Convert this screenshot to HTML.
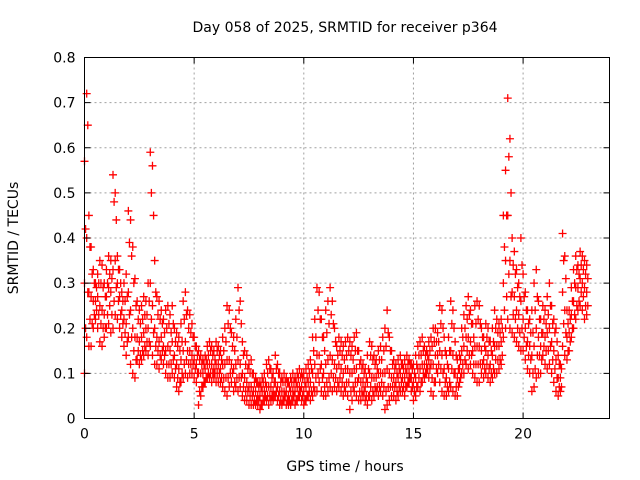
<!DOCTYPE html>
<html><head><meta charset="utf-8"><style>
body{margin:0;background:#fff}
svg{display:block;font-family:"DejaVu Sans","Liberation Sans",sans-serif}
</style></head><body>
<svg id="chart" width="640" height="480" viewBox="0 0 640 480">
<rect width="640" height="480" fill="#fff"/>
<g id="grid"></g>
<g id="marks"></g>
<g id="axes"></g>
<text x="345" y="32" font-size="14" text-anchor="middle">Day 058 of 2025, SRMTID for receiver p364</text>
<text x="345" y="471" font-size="14" text-anchor="middle">GPS time / hours</text>
<text transform="translate(18,238) rotate(-90)" font-size="14" text-anchor="middle">SRMTID / TECUs</text>
</svg>
<script>
const xTicks=[0,5,10,15,20];
const yTicks=[0,0.1,0.2,0.3,0.4,0.5,0.6,0.7,0.8];
const yTickLabels=["0","0.1","0.2","0.3","0.4","0.5","0.6","0.7","0.8"];
const tStart=0, tStep=0.1, tHalf=0.05;
const hiVals=[0.57,0.72,0.45,0.38,0.33,0.30,0.32,0.35,0.34,0.30,
0.33,0.36,0.35,0.54,0.50,0.36,0.33,0.28,0.30,0.32,
0.46,0.44,0.38,0.31,0.26,0.24,0.25,0.27,0.26,0.30,
0.59,0.56,0.35,0.27,0.26,0.24,0.22,0.24,0.25,0.23,
0.25,0.20,0.19,0.18,0.21,0.26,0.28,0.24,0.23,0.21,
0.18,0.16,0.15,0.14,0.13,0.14,0.16,0.17,0.16,0.15,
0.17,0.16,0.15,0.18,0.20,0.25,0.24,0.19,0.18,0.22,
0.29,0.26,0.17,0.15,0.14,0.12,0.13,0.10,0.09,0.08,
0.08,0.09,0.10,0.12,0.13,0.11,0.10,0.14,0.12,0.10,
0.09,0.10,0.09,0.08,0.09,0.10,0.09,0.10,0.11,0.10,
0.10,0.11,0.12,0.13,0.18,0.22,0.29,0.28,0.22,0.18,
0.24,0.26,0.29,0.26,0.20,0.16,0.18,0.17,0.16,0.17,
0.18,0.17,0.16,0.18,0.19,0.15,0.13,0.12,0.11,0.14,
0.17,0.16,0.14,0.13,0.15,0.16,0.18,0.20,0.24,0.18,
0.15,0.13,0.12,0.13,0.14,0.12,0.13,0.14,0.13,0.12,
0.12,0.14,0.16,0.17,0.18,0.16,0.15,0.17,0.18,0.20,
0.20,0.19,0.25,0.24,0.18,0.14,0.18,0.26,0.24,0.17,
0.13,0.14,0.20,0.23,0.25,0.27,0.24,0.21,0.25,0.26,
0.25,0.20,0.18,0.21,0.20,0.17,0.20,0.24,0.22,0.21,
0.22,0.45,0.55,0.71,0.62,0.40,0.37,0.33,0.30,0.40,
0.32,0.28,0.24,0.22,0.24,0.30,0.33,0.26,0.22,0.25,
0.24,0.27,0.30,0.25,0.22,0.20,0.14,0.12,0.41,0.36,
0.24,0.24,0.29,0.33,0.36,0.34,0.37,0.36,0.35,0.34];
const upperVals=[0.42,0.65,0.38,0.32,0.30,0.29,0.30,0.30,0.29,0.27,
0.30,0.32,0.31,0.48,0.44,0.33,0.30,0.26,0.26,0.27,
0.39,0.36,0.30,0.25,0.22,0.21,0.22,0.23,0.23,0.26,
0.50,0.45,0.28,0.23,0.22,0.21,0.19,0.20,0.21,0.19,
0.21,0.17,0.16,0.15,0.17,0.22,0.23,0.20,0.19,0.18,
0.16,0.14,0.13,0.12,0.12,0.13,0.14,0.15,0.14,0.13,
0.15,0.14,0.13,0.15,0.17,0.21,0.20,0.16,0.15,0.18,
0.24,0.21,0.14,0.12,0.11,0.10,0.10,0.08,0.08,0.07,
0.07,0.08,0.08,0.10,0.11,0.09,0.08,0.11,0.10,0.08,
0.08,0.08,0.08,0.07,0.08,0.08,0.08,0.09,0.09,0.09,
0.08,0.09,0.10,0.11,0.15,0.18,0.24,0.22,0.18,0.15,
0.19,0.21,0.23,0.21,0.17,0.14,0.15,0.14,0.13,0.14,
0.15,0.14,0.13,0.15,0.15,0.12,0.11,0.10,0.09,0.11,
0.14,0.13,0.12,0.11,0.13,0.13,0.15,0.16,0.19,0.15,
0.12,0.11,0.10,0.11,0.12,0.11,0.11,0.12,0.12,0.11,
0.10,0.12,0.14,0.14,0.15,0.14,0.14,0.15,0.16,0.17,
0.17,0.17,0.21,0.20,0.15,0.12,0.15,0.21,0.20,0.14,
0.11,0.13,0.18,0.20,0.22,0.23,0.21,0.18,0.21,0.22,
0.21,0.18,0.16,0.18,0.17,0.15,0.17,0.20,0.19,0.19,
0.20,0.38,0.45,0.58,0.50,0.34,0.32,0.29,0.27,0.34,
0.27,0.24,0.21,0.19,0.19,0.24,0.27,0.22,0.19,0.22,
0.21,0.23,0.25,0.21,0.19,0.17,0.12,0.11,0.35,0.31,
0.21,0.22,0.26,0.30,0.33,0.32,0.34,0.33,0.32,0.31];
const midVals=[0.30,0.40,0.28,0.27,0.26,0.26,0.27,0.25,0.24,0.23,
0.27,0.29,0.28,0.33,0.35,0.30,0.27,0.24,0.22,0.21,
0.28,0.24,0.20,0.18,0.18,0.17,0.18,0.19,0.20,0.20,
0.30,0.25,0.20,0.18,0.17,0.18,0.16,0.15,0.16,0.15,
0.17,0.14,0.12,0.11,0.13,0.15,0.17,0.15,0.15,0.14,
0.13,0.12,0.10,0.10,0.10,0.11,0.12,0.12,0.12,0.11,
0.12,0.12,0.11,0.12,0.12,0.13,0.13,0.12,0.11,0.12,
0.13,0.12,0.10,0.09,0.08,0.07,0.07,0.06,0.06,0.05,
0.05,0.06,0.06,0.07,0.07,0.07,0.06,0.08,0.07,0.06,
0.06,0.06,0.06,0.05,0.06,0.06,0.06,0.07,0.07,0.07,
0.06,0.07,0.08,0.08,0.10,0.12,0.14,0.14,0.12,0.10,
0.12,0.13,0.14,0.13,0.12,0.11,0.12,0.11,0.10,0.11,
0.11,0.10,0.10,0.11,0.11,0.09,0.08,0.08,0.07,0.08,
0.10,0.09,0.09,0.09,0.10,0.10,0.10,0.10,0.11,0.10,
0.09,0.09,0.08,0.09,0.10,0.09,0.09,0.10,0.10,0.09,
0.08,0.09,0.11,0.11,0.12,0.12,0.12,0.13,0.12,0.12,
0.14,0.14,0.15,0.14,0.11,0.09,0.11,0.15,0.14,0.10,
0.09,0.11,0.15,0.16,0.18,0.18,0.17,0.15,0.16,0.16,
0.16,0.15,0.13,0.15,0.14,0.12,0.14,0.16,0.16,0.16,
0.17,0.30,0.35,0.45,0.35,0.28,0.27,0.24,0.23,0.26,
0.22,0.20,0.17,0.16,0.14,0.16,0.20,0.18,0.16,0.19,
0.18,0.19,0.20,0.17,0.15,0.13,0.09,0.09,0.28,0.24,
0.18,0.19,0.23,0.26,0.29,0.29,0.31,0.30,0.29,0.28];
const lowerVals=[0.20,0.28,0.22,0.21,0.23,0.24,0.23,0.21,0.20,0.20,
0.23,0.25,0.23,0.26,0.29,0.26,0.23,0.21,0.19,0.17,
0.23,0.18,0.15,0.13,0.15,0.14,0.15,0.16,0.17,0.17,
0.22,0.19,0.16,0.15,0.14,0.15,0.14,0.12,0.12,0.12,
0.13,0.11,0.09,0.08,0.10,0.12,0.13,0.12,0.12,0.12,
0.11,0.10,0.06,0.07,0.08,0.09,0.10,0.10,0.10,0.10,
0.10,0.10,0.09,0.09,0.09,0.09,0.10,0.10,0.08,0.09,
0.09,0.09,0.07,0.06,0.06,0.05,0.05,0.04,0.04,0.04,
0.03,0.04,0.05,0.05,0.05,0.05,0.05,0.06,0.05,0.04,
0.04,0.05,0.04,0.04,0.04,0.05,0.04,0.05,0.06,0.05,
0.04,0.05,0.06,0.06,0.07,0.09,0.10,0.11,0.09,0.07,
0.08,0.09,0.10,0.09,0.09,0.08,0.09,0.08,0.07,0.08,
0.08,0.06,0.07,0.08,0.08,0.06,0.06,0.06,0.05,0.05,
0.07,0.06,0.07,0.07,0.07,0.08,0.07,0.06,0.07,0.07,
0.07,0.07,0.06,0.07,0.08,0.07,0.07,0.08,0.09,0.07,
0.06,0.07,0.09,0.08,0.10,0.10,0.11,0.11,0.09,0.08,
0.11,0.12,0.11,0.10,0.08,0.07,0.08,0.11,0.10,0.07,
0.07,0.09,0.12,0.13,0.15,0.14,0.14,0.12,0.12,0.12,
0.12,0.12,0.11,0.12,0.11,0.10,0.11,0.13,0.13,0.13,
0.14,0.24,0.27,0.32,0.27,0.23,0.22,0.20,0.19,0.20,
0.18,0.16,0.14,0.13,0.10,0.11,0.14,0.14,0.13,0.16,
0.15,0.15,0.16,0.13,0.11,0.09,0.07,0.07,0.21,0.19,
0.15,0.17,0.20,0.23,0.25,0.26,0.28,0.27,0.25,0.25];
const loVals=[0.10,0.18,0.16,0.16,0.20,0.22,0.20,0.17,0.16,0.18,
0.20,0.21,0.19,0.20,0.23,0.22,0.20,0.18,0.16,0.14,
0.18,0.12,0.10,0.09,0.13,0.12,0.13,0.14,0.15,0.14,
0.16,0.14,0.12,0.12,0.11,0.13,0.12,0.10,0.09,0.09,
0.10,0.09,0.07,0.06,0.08,0.09,0.10,0.09,0.10,0.10,
0.09,0.08,0.03,0.05,0.07,0.08,0.09,0.09,0.08,0.09,
0.08,0.08,0.08,0.07,0.06,0.05,0.07,0.08,0.06,0.07,
0.06,0.07,0.05,0.04,0.04,0.03,0.03,0.03,0.03,0.03,
0.02,0.03,0.04,0.04,0.03,0.04,0.04,0.05,0.04,0.03,
0.03,0.04,0.03,0.03,0.03,0.04,0.03,0.04,0.05,0.04,
0.03,0.04,0.05,0.04,0.05,0.06,0.06,0.08,0.06,0.05,
0.05,0.06,0.07,0.06,0.07,0.06,0.07,0.06,0.05,0.06,
0.05,0.02,0.04,0.06,0.05,0.04,0.04,0.05,0.04,0.03,
0.05,0.04,0.05,0.06,0.05,0.06,0.05,0.02,0.03,0.04,
0.05,0.05,0.04,0.05,0.06,0.06,0.05,0.07,0.08,0.06,
0.04,0.05,0.07,0.06,0.08,0.09,0.10,0.09,0.06,0.05,
0.08,0.10,0.08,0.06,0.05,0.05,0.06,0.07,0.06,0.05,
0.05,0.08,0.10,0.10,0.12,0.11,0.12,0.10,0.09,0.08,
0.08,0.10,0.09,0.10,0.09,0.08,0.09,0.10,0.10,0.11,
0.12,0.18,0.20,0.22,0.20,0.19,0.18,0.17,0.16,0.15,
0.15,0.13,0.11,0.10,0.06,0.07,0.09,0.10,0.10,0.14,
0.12,0.11,0.12,0.10,0.08,0.06,0.05,0.06,0.16,0.14,
0.13,0.15,0.18,0.20,0.22,0.24,0.25,0.24,0.22,0.23];

const NS="http://www.w3.org/2000/svg";
const L=84.5,R=609.5,T=57.5,B=418.5,XMAX=23.94,YMAX=0.8;
function xs(v){return L+(R-L)*v/XMAX;}
function ys(v){return B-(B-T)*v/YMAX;}
function mk(tag,attrs,parent){const e=document.createElementNS(NS,tag);for(const k in attrs)e.setAttribute(k,attrs[k]);parent.appendChild(e);return e;}
const grid=document.getElementById('grid'),axes=document.getElementById('axes'),marks=document.getElementById('marks');
yTicks.forEach((v,i)=>{
  const y=ys(v);
  if(v>0&&v<YMAX){const g=mk('line',{x1:L,x2:R,y1:y,y2:y,stroke:'#a0a0a0','stroke-dasharray':'2,3'},grid);
  
  }
  mk('line',{x1:L,x2:L+6,y1:y,y2:y,stroke:'#000'},axes);
  mk('line',{x1:R,x2:R-6,y1:y,y2:y,stroke:'#000'},axes);
  const t=mk('text',{x:L-9,y:y+5,'font-size':14,'text-anchor':'end'},axes);
  t.textContent=yTickLabels[i];
  
  
});
xTicks.forEach(v=>{
  const x=xs(v);
  if(v>0){const g=mk('line',{x1:x,x2:x,y1:T,y2:B,stroke:'#a0a0a0','stroke-dasharray':'2,3'},grid);
  
  }
  mk('line',{x1:x,x2:x,y1:B,y2:B-6,stroke:'#000'},axes);
  mk('line',{x1:x,x2:x,y1:T,y2:T+6,stroke:'#000'},axes);
  const t=mk('text',{x:x,y:B+20,'font-size':14,'text-anchor':'middle'},axes);
  t.textContent=String(v);
  
  
});
const frame=mk('rect',{x:L,y:T,width:R-L,height:B-T,fill:'none',stroke:'#000'},axes);


[[hiVals,0],[upperVals,tHalf],[midVals,0],[lowerVals,tHalf],[loVals,0]].forEach(([arr,off])=>{
  arr.forEach((v,i)=>{
    const x=xs(tStart+off+i*tStep),y=ys(v);
    const p=mk('path',{d:`M${x-4} ${y}h8M${x} ${y-4}v8`,stroke:'#f00','stroke-width':1.3,fill:'none'},marks);
    
    
  });
});
</script>
</body></html>
